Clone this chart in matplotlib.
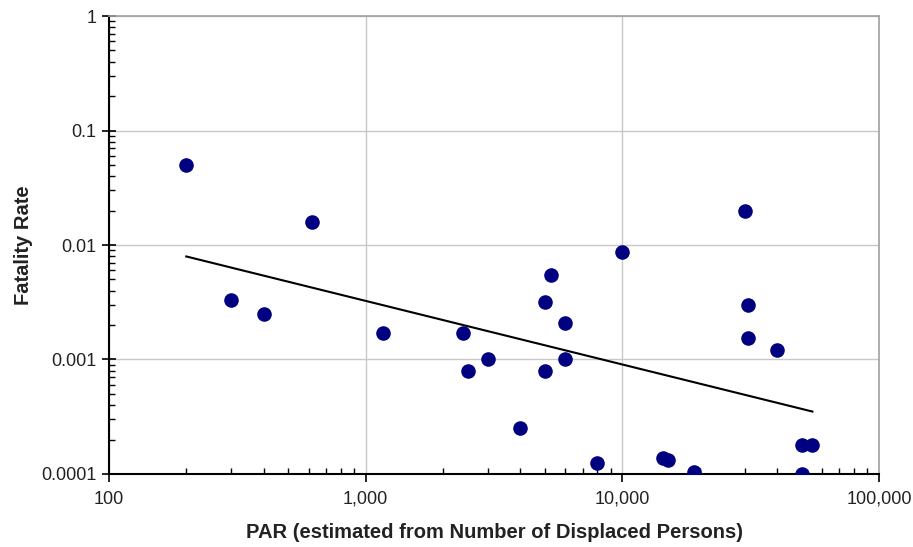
import numpy as np
import matplotlib
matplotlib.use("Agg")
import matplotlib.pyplot as plt
from matplotlib.ticker import FuncFormatter, LogLocator, NullFormatter

plt.rcParams['font.family'] = ['Liberation Sans', 'DejaVu Sans']

# PAR (people at risk) and observed fatality rate
par = [200, 300, 400, 620, 1170, 2400, 2500, 3000, 4000, 5000, 5270, 5000,
       6000, 6000, 8000, 10000, 14400, 15000, 19000, 30000, 30800, 30800,
       40000, 50000, 55000, 50000]
fatality = [0.05, 0.0033, 0.0025, 0.016, 0.0017, 0.0017, 0.0008, 0.001,
            0.00025, 0.0032, 0.0055, 0.0008, 0.0021, 0.001, 0.000125, 0.0087,
            0.000138, 0.000133, 0.000105, 0.02, 0.003, 0.00154, 0.0012,
            0.00018, 0.00018, 0.0001]

x_ticks = [100, 1000, 10000, 100000]
y_ticks = [0.0001, 0.001, 0.01, 0.1, 1]

fig = plt.figure(figsize=(9.13, 5.47), dpi=100)
ax = fig.add_axes([0.1194, 0.1335, 0.8434, 0.8372])

ax.scatter(par, fatality, s=110, color='#000080', zorder=3, linewidths=0)

# power-law trendline (least squares in log-log space)
lx = np.log10(par)
ly = np.log10(fatality)
b, a = np.polyfit(lx, ly, 1)
tx = np.array([min(par), max(par)])
ax.plot(tx, 10 ** (a + b * np.log10(tx)), color='black', lw=1.5, zorder=2)

ax.set_xscale('log')
ax.set_yscale('log')
ax.set_xlim(100, 100000)
ax.set_ylim(0.0001, 1)
ax.set_xticks(x_ticks)
ax.set_yticks(y_ticks)
ax.xaxis.set_major_formatter(FuncFormatter(lambda v, p: f"{int(round(v)):,}"))
ax.yaxis.set_major_formatter(FuncFormatter(lambda v, p: f"{v:g}" if v >= 0.001 else "0.0001"))
ax.xaxis.set_minor_locator(LogLocator(base=10, subs=np.arange(2, 10)))
ax.yaxis.set_minor_locator(LogLocator(base=10, subs=np.arange(2, 10)))
ax.xaxis.set_minor_formatter(NullFormatter())
ax.yaxis.set_minor_formatter(NullFormatter())

ax.grid(True, which='major', color='#c8c8c8', lw=1)
ax.set_axisbelow(True)
ax.tick_params(which='major', direction='out', length=6, width=1.2,
               labelsize=13, labelcolor='#222222')
ax.tick_params(axis='y', which='major', direction='inout', length=10)
ax.tick_params(which='minor', direction='in', length=4, width=1)
ax.tick_params(axis='x', pad=6)
ax.tick_params(axis='y', pad=4)

for s in ['left', 'bottom']:
    ax.spines[s].set_color('black')
    ax.spines[s].set_linewidth(1.5)
for s in ['top', 'right']:
    ax.spines[s].set_color('#a0a0a0')
    ax.spines[s].set_linewidth(1.2)

ax.set_xlabel('PAR (estimated from Number of Displaced Persons)', fontsize=14.5,
              fontweight='bold', color='#222222', labelpad=11)
ax.set_ylabel('Fatality Rate', fontsize=14.5, fontweight='bold', color='#222222',
              labelpad=6)

fig.savefig('out.png', dpi=100)
